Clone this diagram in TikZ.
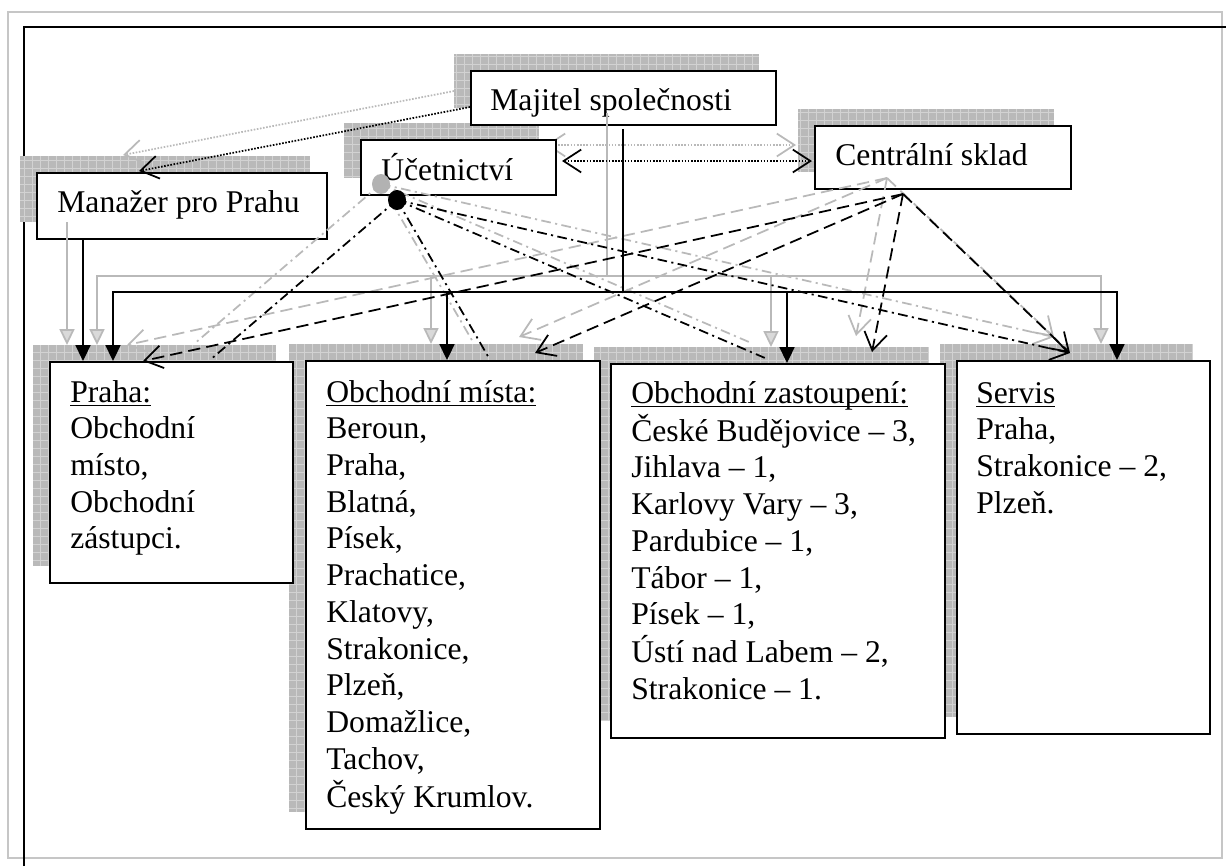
\documentclass[tikz,border=0pt]{standalone}
\usepackage{fontspec}
\setmainfont{Liberation Serif}
\usetikzlibrary{arrows.meta}

\newcommand\undr[1]{\setbox0\hbox{#1}\rlap{\rule[-2.5pt]{\wd0}{1pt}}\box0}

\begin{document}
\begin{tikzpicture}[x=0.02cm,y=-0.02cm,font=\fontsize{18}{20.9}\selectfont]

\useasboundingbox (0,0) rectangle (1226,866);

\tikzstyle{box}=[draw,line width=1.1pt,fill=white,anchor=north west,inner sep=0pt]
\tikzstyle{txt}=[anchor=base west,inner sep=0pt]
\tikzstyle{boxshade}=[fill=gray!55]
\tikzstyle{shadegrid}=[draw=gray!35,line width=0.35pt,step=0.16cm]
\tikzstyle{conn}=[line width=1pt]
\tikzstyle{ghost}=[draw=gray!55,transform canvas={shift={(-16,-16)}}]
\tikzstyle{dotline}=[conn,dash pattern=on 0.9pt off 0.9pt]
\tikzstyle{dashline}=[conn,dash pattern=on 7pt off 3.5pt]
\tikzstyle{dashdotline}=[conn,dash pattern=on 5.5pt off 2.5pt on 1.2pt off 2.5pt]
\tikzstyle{barb}=[-{Straight Barb[length=10pt,width=13pt]}]
\tikzstyle{barbs}=[{Straight Barb[length=10pt,width=13pt]}-{Straight Barb[length=10pt,width=13pt]}]
\tikzstyle{tri}=[-{Triangle[length=9pt,width=8.5pt]}]
\tikzstyle{ghosttri}=[-{Triangle[length=9pt,width=8.5pt,fill=gray!30]}]

% page frame
\draw[gray!45,line width=0.6pt] (8,12) rectangle (1222,858);
\draw[line width=1pt] (24,866) -- (24,27) -- (1226,27);

% shadows of the boxes
\fill[boxshade] (454,54) rectangle +(305,54);   \draw[shadegrid] (454,54) grid +(305,54);
\fill[boxshade] (344,123) rectangle +(195,55);  \draw[shadegrid] (344,123) grid +(195,55);
\fill[boxshade] (798,109) rectangle +(256,63);  \draw[shadegrid] (798,109) grid +(256,63);
\fill[boxshade] (20,156) rectangle +(290,66);   \draw[shadegrid] (20,156) grid +(290,66);
\fill[boxshade] (33,345) rectangle +(243,221);  \draw[shadegrid] (33,345) grid +(243,221);
\fill[boxshade] (289,344) rectangle +(294,468); \draw[shadegrid] (289,344) grid +(294,468);
\fill[boxshade] (594,347) rectangle +(334,374); \draw[shadegrid] (594,347) grid +(334,374);
\fill[boxshade] (940,344) rectangle +(253,373); \draw[shadegrid] (940,344) grid +(253,373);

% connector points
\coordinate (uc-r) at (562,161);
\coordinate (sk-l) at (812,161);
\coordinate (mj-out) at (470,107);
\coordinate (mz-in) at (139,171);
\coordinate (mj-bus) at (623,129);
\coordinate (bus) at (623,292);
\coordinate (mz-out) at (83,238);
\coordinate (pr-in) at (83,361);
\coordinate (pr-bus) at (113,361);
\coordinate (mi-bus) at (447,360);
\coordinate (za-bus) at (787,363);
\coordinate (se-bus) at (1117,360);
\coordinate (dot) at (397,200);
\coordinate (sk) at (903,194);
\coordinate (pr-a) at (210,360);
\coordinate (mi-a) at (489,358);
\coordinate (za-a) at (765,358);
\coordinate (se-a) at (1070,353);
\coordinate (pr-b) at (143,361);
\coordinate (mi-b) at (535,353);
\coordinate (za-b) at (872,352);

\draw[dotline,barbs,ghost] (uc-r) -- (sk-l);

% boxes
\node[box,minimum width=6.10cm,minimum height=1.08cm] (majitel) at (470,70) {};
\node[box,minimum width=3.90cm,minimum height=1.10cm] (ucetni) at (360,139) {};
\node[box,minimum width=5.12cm,minimum height=1.26cm] (sklad) at (814,125) {};
\node[box,minimum width=5.80cm,minimum height=1.32cm] (manazer) at (36,172) {};
\node[box,minimum width=4.86cm,minimum height=4.42cm] (praha) at (49,361) {};
\node[box,minimum width=5.88cm,minimum height=9.36cm] (mista) at (305,360) {};
\node[box,minimum width=6.68cm,minimum height=7.48cm] (zastoup) at (610,363) {};
\node[box,minimum width=5.06cm,minimum height=7.46cm] (servis) at (956,360) {};

\node[txt] (majitel-t) at (490,110) {Majitel společnosti};
\node[txt] (ucetni-t) at (381,180) {Účetnictví};
\node[txt] (sklad-t) at (835,165) {Centrální sklad};
\node[txt] (manazer-t) at (57,212) {Manažer pro Prahu};
\node[txt] (praha-t) at (70,402) {\begin{tabular}[t]{@{}l@{}}\undr{Praha:}\\Obchodní\\místo,\\Obchodní\\zástupci.\end{tabular}};
\node[txt] (mista-t) at (326,402) {\begin{tabular}[t]{@{}l@{}}\undr{Obchodní místa:}\\Beroun,\\Praha,\\Blatná,\\Písek,\\Prachatice,\\Klatovy,\\Strakonice,\\Plzeň,\\Domažlice,\\Tachov,\\Český Krumlov.\end{tabular}};
\node[txt] (zastoup-t) at (631,403) {\begin{tabular}[t]{@{}l@{}}\undr{Obchodní zastoupení:}\\České Budějovice – 3,\\Jihlava – 1,\\Karlovy Vary – 3,\\Pardubice – 1,\\Tábor – 1,\\Písek – 1,\\Ústí nad Labem – 2,\\Strakonice – 1.\end{tabular}};
\node[txt] (servis-t) at (976,403) {\begin{tabular}[t]{@{}l@{}}\undr{Servis}\\Praha,\\Strakonice – 2,\\Plzeň.\end{tabular}};

% grey shadows of the connectors
\draw[dotline,barb,ghost] (mj-out) -- (mz-in);
\draw[conn,ghost] (mj-bus) -- (bus);
\draw[conn,ghosttri,ghost] (bus) -| (pr-bus);
\draw[conn,ghosttri,ghost] (bus) -| (mi-bus);
\draw[conn,ghosttri,ghost] (bus) -| (za-bus);
\draw[conn,ghosttri,ghost] (bus) -| (se-bus);
\draw[conn,ghosttri,ghost] (mz-out) -- (pr-in);
\draw[dashdotline,ghost] (dot) -- (pr-a);
\draw[dashdotline,ghost] (dot) -- (mi-a);
\draw[dashdotline,ghost] (dot) -- (za-a);
\draw[dashdotline,barb,ghost] (dot) -- (se-a);
\draw[dashline,barb,ghost] (sk) -- (pr-b);
\draw[dashline,barb,ghost] (sk) -- (mi-b);
\draw[dashline,barb,ghost] (sk) -- (za-b);
\draw[dashline,barb,ghost] (sk) -- (se-a);
\fill[gray!60,transform canvas={shift={(-16,-16)}}] (dot) ellipse (9 and 10);

% connectors
\draw[dotline,barbs] (uc-r) -- (sk-l);
\draw[dotline,barb] (mj-out) -- (mz-in);
\draw[conn] (mj-bus) -- (bus);
\draw[conn,tri] (bus) -| (pr-bus);
\draw[conn,tri] (bus) -| (mi-bus);
\draw[conn,tri] (bus) -| (za-bus);
\draw[conn,tri] (bus) -| (se-bus);
\draw[conn,tri] (mz-out) -- (pr-in);
\draw[dashdotline] (dot) -- (pr-a);
\draw[dashdotline] (dot) -- (mi-a);
\draw[dashdotline] (dot) -- (za-a);
\draw[dashdotline,barb] (dot) -- (se-a);
\draw[dashline,barb] (sk) -- (pr-b);
\draw[dashline,barb] (sk) -- (mi-b);
\draw[dashline,barb] (sk) -- (za-b);
\draw[dashline,barb] (sk) -- (se-a);
\fill (dot) ellipse (9 and 10);

\end{tikzpicture}
\end{document}
